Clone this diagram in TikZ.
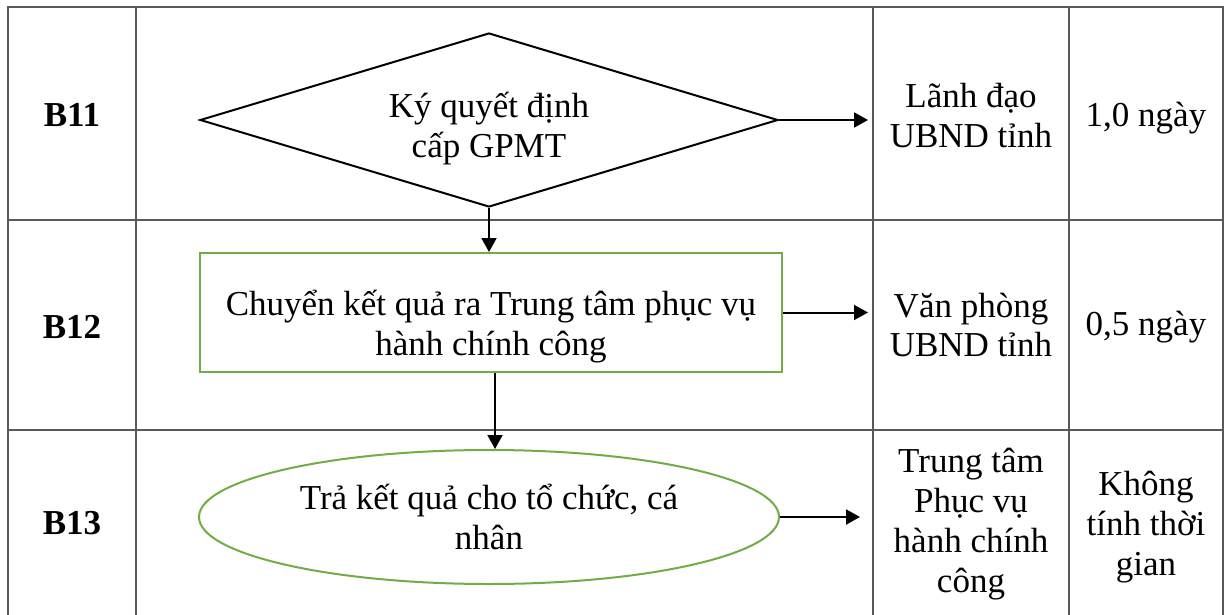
\documentclass[tikz,border=0pt]{standalone}
\usepackage{fontspec}
\setmainfont{Liberation Serif}
\usetikzlibrary{shapes.geometric,arrows.meta}
\definecolor{boxgreen}{RGB}{112,173,71}
\definecolor{gridgray}{RGB}{89,89,89}
\begin{document}
\begin{tikzpicture}[x=0.5pt,y=-0.5pt,font=\fontsize{17.5}{20}\selectfont,
  arr/.style={-{Triangle[length=7pt,width=7.5pt]},line width=1pt},
  grid/.style={gridgray,line width=1pt},
  stepname/.style={font=\fontsize{17.5}{20}\selectfont\bfseries}]
\useasboundingbox (0,0) rectangle (1226,615);
% table
\draw[grid] (8,615) -- (8,7) -- (1223,7) -- (1223,615);
\draw[grid] (8,220) -- (1223,220);
\draw[grid] (8,430) -- (1223,430);
\foreach \x in {136,873,1069} \draw[grid] (\x,7) -- (\x,615);
% step names
\node[stepname](b11) at (72,115){B11};
\node[stepname](b12) at (72,327){B12};
\node[stepname](b13) at (72,523){B13};
% flow
\node[diamond,draw,line width=1pt,aspect=3.3,minimum width=289pt,minimum height=87pt,inner sep=0pt,text height=41pt,text depth=4pt,align=center](sign) at (489,120){Ký quyết định\\cấp GPMT};
\node[draw=boxgreen,line width=1pt,minimum width=291pt,minimum height=59.5pt,inner sep=0pt,text height=46.5pt,text depth=4pt,align=center](move) at (491,312.5){Chuyển kết quả ra Trung tâm phục vụ\\hành chính công};
\node[ellipse,draw=boxgreen,line width=1pt,minimum width=290pt,minimum height=67pt,inner sep=0pt,align=center](back) at (489,517){Trả kết quả cho tổ chức, cá\\nhân};
% who and when
\node[align=center](who1) at (971,116){Lãnh đạo\\UBND tỉnh};
\node[align=center](who2) at (971,325){Văn phòng\\UBND tỉnh};
\node[align=center](who3) at (971,524){Trung tâm\\Phục vụ\\hành chính\\công};
\node[align=center](time1) at (1146,118){1,0 ngày};
\node[align=center](time2) at (1146,327){0,5 ngày};
\node[align=center](time3) at (1146,527){Không\\tính thời\\gian};
\coordinate (e1) at (868,120);
\coordinate (e2) at (868,312.5);
\coordinate (e3) at (860,517);
\draw[arr] (sign.east) -- (e1);
\draw[arr] (sign.south) -- (sign.south |- move.north);
\draw[arr] (move.east) -- (e2);
\draw[arr] ([xshift=2pt]move.south) -- ([xshift=2pt]move.south |- back.north);
\draw[arr] (back.east) -- (e3);
\end{tikzpicture}
\end{document}
